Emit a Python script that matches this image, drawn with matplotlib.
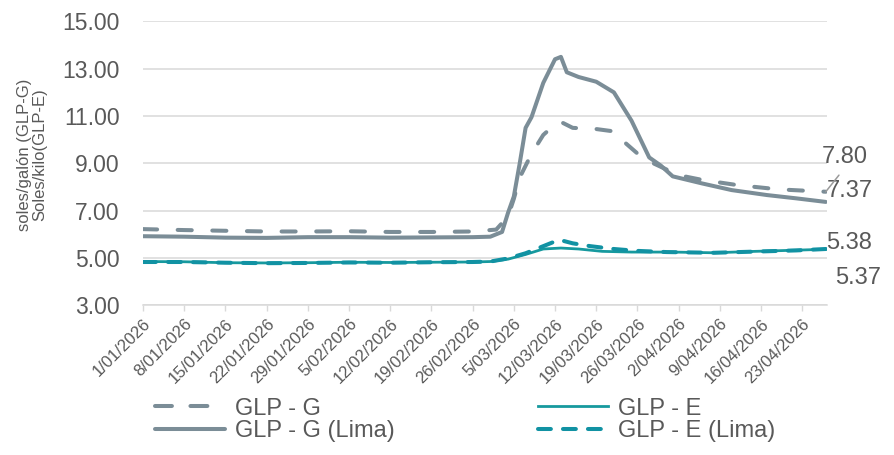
import matplotlib
matplotlib.use("Agg")
import matplotlib.pyplot as plt
import matplotlib.dates as mdates
import pandas as pd

plt.rcParams['font.family'] = ['Liberation Sans', 'DejaVu Sans']

# ---------------- data ----------------
glp_g_dates = ["2026-01-01", "2026-01-08", "2026-01-15", "2026-01-22", "2026-01-29",
               "2026-02-05", "2026-02-12", "2026-02-19", "2026-02-26", "2026-03-02",
               "2026-03-04", "2026-03-05", "2026-03-06", "2026-03-08", "2026-03-10",
               "2026-03-12", "2026-03-13", "2026-03-15", "2026-03-19", "2026-03-22",
               "2026-03-24", "2026-03-27", "2026-03-30", "2026-04-02", "2026-04-06",
               "2026-04-12", "2026-04-19", "2026-04-27"]
glp_g_vals = [6.22, 6.18, 6.15, 6.12, 6.12, 6.13, 6.10, 6.10, 6.12, 6.20,
              6.75, 7.50, 8.40, 9.40, 10.20, 10.65, 10.75, 10.50, 10.45, 10.35,
              9.85, 9.20, 8.85, 8.50, 8.30, 8.08, 7.90, 7.80]

glp_g_lima_dates = ["2026-01-01", "2026-01-08", "2026-01-15", "2026-01-22", "2026-01-29",
                    "2026-02-05", "2026-02-12", "2026-02-19", "2026-02-26", "2026-03-01",
                    "2026-03-03", "2026-03-04", "2026-03-05", "2026-03-06", "2026-03-07",
                    "2026-03-08", "2026-03-10", "2026-03-12", "2026-03-13", "2026-03-14",
                    "2026-03-16", "2026-03-19", "2026-03-22", "2026-03-25", "2026-03-28",
                    "2026-03-30", "2026-04-01", "2026-04-06", "2026-04-11", "2026-04-17",
                    "2026-04-22", "2026-04-27"]
glp_g_lima_vals = [5.92, 5.90, 5.86, 5.85, 5.88, 5.88, 5.86, 5.87, 5.88, 5.90,
                   6.10, 6.90, 7.60, 9.00, 10.50, 10.95, 12.40, 13.40, 13.50, 12.85,
                   12.65, 12.45, 12.00, 10.80, 9.25, 8.90, 8.45, 8.15, 7.87, 7.66,
                   7.52, 7.37]

glp_e_dates = ["2026-01-01", "2026-01-08", "2026-01-15", "2026-01-22", "2026-01-29",
               "2026-02-05", "2026-02-12", "2026-02-19", "2026-02-26", "2026-03-01",
               "2026-03-04", "2026-03-07", "2026-03-10", "2026-03-13", "2026-03-16",
               "2026-03-20", "2026-03-25", "2026-04-01", "2026-04-08", "2026-04-15",
               "2026-04-22", "2026-04-27"]
glp_e_vals = [4.85, 4.84, 4.80, 4.79, 4.80, 4.82, 4.81, 4.82, 4.83, 4.85,
              4.95, 5.15, 5.38, 5.42, 5.38, 5.28, 5.25, 5.25, 5.22, 5.28,
              5.33, 5.37]

glp_e_lima_dates = ["2026-01-01", "2026-01-08", "2026-01-15", "2026-01-22", "2026-01-29",
                    "2026-02-05", "2026-02-12", "2026-02-19", "2026-02-26", "2026-03-01",
                    "2026-03-04", "2026-03-07", "2026-03-10", "2026-03-12", "2026-03-13",
                    "2026-03-15", "2026-03-18", "2026-03-22", "2026-03-26", "2026-03-31",
                    "2026-04-08", "2026-04-15", "2026-04-22", "2026-04-27"]
glp_e_lima_vals = [4.83, 4.83, 4.80, 4.78, 4.79, 4.81, 4.80, 4.82, 4.83, 4.85,
                   4.98, 5.20, 5.50, 5.70, 5.75, 5.62, 5.50, 5.38, 5.30, 5.25,
                   5.22, 5.27, 5.32, 5.38]

x_tick_labels = ["1/01/2026", "8/01/2026", "15/01/2026", "22/01/2026", "29/01/2026",
                 "5/02/2026", "12/02/2026", "19/02/2026", "26/02/2026", "5/03/2026",
                 "12/03/2026", "19/03/2026", "26/03/2026", "2/04/2026", "9/04/2026",
                 "16/04/2026", "23/04/2026"]
y_ticks = [3, 5, 7, 9, 11, 13, 15]

series_names = ["GLP - G", "GLP - E", "GLP - G (Lima)", "GLP - E (Lima)"]

# ---------------- styling ----------------
GRAY = "#7b8d97"
TEAL = "#16999e"
TEAL_D = "#1192a3"
TXT = "#595959"
GRID = "#d9d9d9"

fig = plt.figure(figsize=(8.94, 4.55), dpi=100)
ax = fig.add_axes([0.160, 0.329, 0.765, 0.624])

def d(lst):
    return pd.to_datetime(lst)

l_g, = ax.plot(d(glp_g_dates), glp_g_vals, color=GRAY, lw=2.9,
               dashes=(3.5, 5.1), dash_capstyle='round', solid_capstyle='round',
               label=series_names[0], zorder=3)
l_e, = ax.plot(d(glp_e_dates), glp_e_vals, color=TEAL, lw=2.0,
               label=series_names[1], zorder=3)
l_gl, = ax.plot(d(glp_g_lima_dates), glp_g_lima_vals, color=GRAY, lw=2.9,
                solid_capstyle='round', solid_joinstyle='round',
                label=series_names[2], zorder=4)
l_el, = ax.plot(d(glp_e_lima_dates), glp_e_lima_vals, color=TEAL_D, lw=2.9,
                dashes=(3.2, 3.0), dash_capstyle='round',
                label=series_names[3], zorder=5)

# axes
x0 = pd.Timestamp("2026-01-01")
ax.set_xlim(mdates.date2num(x0), mdates.date2num(x0) + 116.2)
ax.set_ylim(3, 15)
ax.set_yticks(y_ticks)
ax.set_yticklabels([f"{v:.2f}" for v in y_ticks])
tick_pos = pd.to_datetime(x_tick_labels, format="%d/%m/%Y")
ax.set_xticks(tick_pos)
ax.set_xticklabels(x_tick_labels, rotation=45, ha='right', va='top',
                   rotation_mode='anchor')

ax.tick_params(axis='y', length=0, pad=17, labelsize=16.5, labelcolor=TXT)
ax.tick_params(axis='x', length=4, width=1, color=GRID, pad=4,
               labelsize=12, labelcolor=TXT)
for s in ['top', 'right', 'left']:
    ax.spines[s].set_visible(False)
ax.spines['bottom'].set_color(GRID)
ax.spines['bottom'].set_linewidth(1.1)
ax.yaxis.grid(True, color=GRID, lw=1.1)
ax.set_axisbelow(True)

fig.text(0.036, 1 - 155 / 455, "soles/galón (GLP-G)\nSoles/kilo(GLP-E)",
         rotation=90, ha='center', va='center', fontsize=12, color=TXT,
         linespacing=1.05, multialignment='center')

# end labels
def end_xy(dates, vals):
    return (mdates.date2num(pd.Timestamp(dates[-1])), vals[-1])

ax.annotate(f"{glp_g_vals[-1]:.2f}", xy=end_xy(glp_g_dates, glp_g_vals),
            xytext=(-3, 25), textcoords='offset points', fontsize=17, color=TXT,
            ha='left', va='center', annotation_clip=False, zorder=6,
            arrowprops=dict(arrowstyle='-', color='#9a9a9a', lw=1.1,
                            shrinkA=4, shrinkB=0, relpos=(0.5, 0)))
ax.annotate(f"{glp_g_lima_vals[-1]:.2f}", xy=end_xy(glp_g_lima_dates, glp_g_lima_vals),
            xytext=(1, 8), textcoords='offset points', fontsize=17, color=TXT,
            ha='left', va='center', annotation_clip=False)
ax.annotate(f"{glp_e_lima_vals[-1]:.2f}", xy=end_xy(glp_e_lima_dates, glp_e_lima_vals),
            xytext=(0, 4), textcoords='offset points', fontsize=17, color=TXT,
            ha='left', va='center', annotation_clip=False)
ax.annotate(f"{glp_e_vals[-1]:.2f}", xy=end_xy(glp_e_dates, glp_e_vals),
            xytext=(7, -21), textcoords='offset points', fontsize=17, color=TXT,
            ha='left', va='center', annotation_clip=False)

leg = fig.legend(handles=[l_g, l_gl, l_e, l_el],
                 labels=[series_names[0], series_names[2], series_names[1], series_names[3]],
                 ncol=2, loc='center left', bbox_to_anchor=(0.1734, 0.077),
                 frameon=False, fontsize=17, handlelength=2.95, handletextpad=0.42,
                 columnspacing=6.1, labelspacing=0.02, borderpad=0, borderaxespad=0)
for t in leg.get_texts():
    t.set_color(TXT)
leg.get_lines()[0].set_dashes((4.2, 4.6))

fig.savefig("out.png", dpi=100)
